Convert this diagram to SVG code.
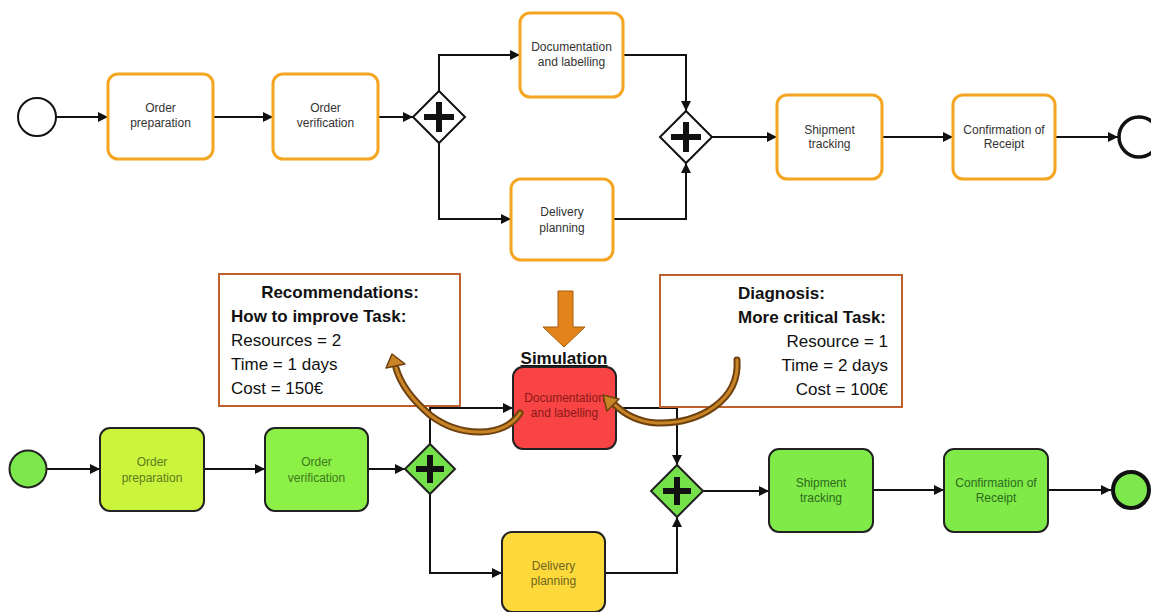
<svg xmlns="http://www.w3.org/2000/svg" width="1151" height="612" viewBox="0 0 1151 612">
<defs>
<style>
.t{font-family:"Liberation Sans",Arial,sans-serif;font-size:12px;text-anchor:middle}
.tg{fill:#333}
.top{fill:#fff;stroke:#F4A623;stroke-width:3}
.bot{stroke:#222;stroke-width:2}
.gw{fill:#fff;stroke:#111;stroke-width:2}
.gwb{fill:#74E04A;stroke:#222;stroke-width:2}
.plus{stroke:#111;stroke-width:6;fill:none}
.con{fill:none;stroke:#111;stroke-width:2}
.m{font-family:"Liberation Sans",Arial,sans-serif;font-size:17px;fill:#111}
.b{font-weight:bold}
.note{fill:#fff;stroke:#C0602F;stroke-width:2}
.curveo{fill:none;stroke:#6E4210;stroke-width:7;stroke-linecap:round}
.curvei{fill:none;stroke:#C98425;stroke-width:3;stroke-linecap:round}
</style>
<marker id="arr" viewBox="0 0 10 10" refX="10" refY="5" markerWidth="11" markerHeight="10" markerUnits="userSpaceOnUse" orient="auto">
<path d="M0,0 L10,5 L0,10 z" fill="#111"/>
</marker>
</defs>
<rect width="1151" height="612" fill="#fff"/>

<g id="connectors">
<path class="con" d="M56,117 H108" marker-end="url(#arr)"/>
<path class="con" d="M213,117 H273" marker-end="url(#arr)"/>
<path class="con" d="M378,117 H413" marker-end="url(#arr)"/>
<path class="con" d="M439,91 V55 H520" marker-end="url(#arr)"/>
<path class="con" d="M439,143 V219 H511" marker-end="url(#arr)"/>
<path class="con" d="M623,55 H686 V111" marker-end="url(#arr)"/>
<path class="con" d="M613,219 H686 V163" marker-end="url(#arr)"/>
<path class="con" d="M712,137 H777" marker-end="url(#arr)"/>
<path class="con" d="M882,137 H953" marker-end="url(#arr)"/>
<path class="con" d="M1055,137 H1118" marker-end="url(#arr)"/>

<path class="con" d="M47,469 H100" marker-end="url(#arr)"/>
<path class="con" d="M204,469 H265" marker-end="url(#arr)"/>
<path class="con" d="M368,469 H405" marker-end="url(#arr)"/>
<path class="con" d="M430,444 V408 H513" marker-end="url(#arr)"/>
<path class="con" d="M430,494 V573 H502" marker-end="url(#arr)"/>
<path class="con" d="M616,408 H677 V465" marker-end="url(#arr)"/>
<path class="con" d="M605,573 H677 V517" marker-end="url(#arr)"/>
<path class="con" d="M703,491 H769" marker-end="url(#arr)"/>
<path class="con" d="M873,490 H944" marker-end="url(#arr)"/>
<path class="con" d="M1048,490 H1111" marker-end="url(#arr)"/>
</g>

<!-- top process -->
<g id="top-start"><circle cx="37" cy="117" r="19" fill="#fff" stroke="#111" stroke-width="2"/></g>
<g id="top-order-prep"><rect class="top" x="108" y="74" width="105" height="85" rx="10"/><text class="t tg" x="160.5" y="112">Order</text><text class="t tg" x="160.5" y="127">preparation</text></g>
<g id="top-order-verif"><rect class="top" x="273" y="74" width="105" height="85" rx="10"/><text class="t tg" x="325.5" y="112">Order</text><text class="t tg" x="325.5" y="127">verification</text></g>
<g id="top-gw1"><path class="gw" d="M439,91 L465,117 L439,143 L413,117 Z"/><path class="plus" d="M424,117 H454 M439,102 V132"/></g>
<g id="top-doc"><rect class="top" x="520" y="13" width="103" height="84" rx="10"/><text class="t tg" x="571.5" y="51">Documentation</text><text class="t tg" x="571.5" y="66">and labelling</text></g>
<g id="top-delivery"><rect class="top" x="511" y="179" width="102" height="81" rx="10"/><text class="t tg" x="562" y="216">Delivery</text><text class="t tg" x="562" y="232">planning</text></g>
<g id="top-gw2"><path class="gw" d="M686,111 L712,137 L686,163 L660,137 Z"/><path class="plus" d="M671,137 H701 M686,122 V152"/></g>
<g id="top-shipment"><rect class="top" x="777" y="95" width="105" height="84" rx="10"/><text class="t tg" x="829.5" y="134">Shipment</text><text class="t tg" x="829.5" y="148">tracking</text></g>
<g id="top-confirm"><rect class="top" x="953" y="95" width="102" height="84" rx="10"/><text class="t tg" x="1004" y="134">Confirmation of</text><text class="t tg" x="1004" y="148">Receipt</text></g>
<g id="top-end"><circle cx="1139" cy="137" r="20" fill="#fff" stroke="#111" stroke-width="3.5"/></g>

<!-- middle notes -->
<g id="recommendations"><rect class="note" x="219" y="274" width="241" height="132"/>
<text class="m b" x="340" y="298" text-anchor="middle">Recommendations:</text>
<text class="m b" x="231" y="322">How to improve Task:</text>
<text class="m" x="231" y="346">Resources = 2</text>
<text class="m" x="231" y="370">Time = 1 days</text>
<text class="m" x="231" y="394">Cost = 150€</text></g>
<g id="diagnosis"><rect class="note" x="660" y="275" width="242" height="132"/>
<text class="m b" x="738" y="299">Diagnosis:</text>
<text class="m b" x="738" y="323">More critical Task:</text>
<text class="m" x="888" y="347" text-anchor="end">Resource = 1</text>
<text class="m" x="888" y="371" text-anchor="end">Time = 2 days</text>
<text class="m" x="888" y="395" text-anchor="end">Cost = 100€</text></g>
<g id="sim-arrow"><path d="M558,291 H573 V327 H585 L564,347 L543,327 H558 Z" fill="#E3841A" stroke="#A85A10" stroke-width="1"/></g>
<g id="simulation"><text class="m b" x="564" y="364" text-anchor="middle" text-decoration="underline">Simulation</text></g>

<!-- bottom process -->
<g id="bot-start"><circle class="bot" cx="28" cy="469" r="18.5" fill="#7CE84C"/></g>
<g id="bot-order-prep"><rect class="bot" x="100" y="428" width="104" height="83" rx="10" fill="#CBF53C"/><text class="t" fill="#5C7A1E" x="152" y="466">Order</text><text class="t" fill="#5C7A1E" x="152" y="482">preparation</text></g>
<g id="bot-order-verif"><rect class="bot" x="265" y="428" width="103" height="83" rx="10" fill="#8CF046"/><text class="t" fill="#3C7A1E" x="316.5" y="466">Order</text><text class="t" fill="#3C7A1E" x="316.5" y="482">verification</text></g>
<g id="bot-gw1"><path class="gwb" d="M430,444 L455,469 L430,494 L405,469 Z"/><path class="plus" d="M416,469 H444 M430,455 V483"/></g>
<g id="bot-doc"><rect class="bot" x="513" y="367" width="103" height="82" rx="10" fill="#F84444"/><text class="t" fill="#8A1818" x="564.5" y="402">Documentation</text><text class="t" fill="#8A1818" x="564.5" y="417">and labelling</text></g>
<g id="bot-delivery"><rect class="bot" x="502" y="532" width="103" height="80" rx="10" fill="#FDD93C"/><text class="t" fill="#6E641E" x="553.5" y="570">Delivery</text><text class="t" fill="#6E641E" x="553.5" y="585">planning</text></g>
<g id="bot-gw2"><path class="gwb" d="M677,465 L703,491 L677,517 L651,491 Z"/><path class="plus" d="M663,491 H691 M677,477 V505"/></g>
<g id="bot-shipment"><rect class="bot" x="769" y="449" width="104" height="83" rx="10" fill="#7FEA48"/><text class="t" fill="#2E6A1E" x="821" y="487">Shipment</text><text class="t" fill="#2E6A1E" x="821" y="502">tracking</text></g>
<g id="bot-confirm"><rect class="bot" x="944" y="449" width="104" height="83" rx="10" fill="#7FEA48"/><text class="t" fill="#2E6A1E" x="996" y="487">Confirmation of</text><text class="t" fill="#2E6A1E" x="996" y="502">Receipt</text></g>
<g id="bot-end"><circle cx="1131" cy="490" r="18" fill="#7CE84C" stroke="#111" stroke-width="4"/></g>

<!-- curved callout arrows -->
<g id="curved-arrows">
<path class="curveo" d="M520,413 C505,438 460,438 430,415 C410,398 400,382 396,368"/>
<path class="curvei" d="M520,413 C505,438 460,438 430,415 C410,398 400,382 396,368"/>
<path d="M386,368 L392,354 L405,364 Z" fill="#C98425" stroke="#6E4210" stroke-width="1.5" stroke-linejoin="round"/>
<path class="curveo" d="M737,360 C740,400 700,424 657,423 C638,422 624,414 614,404"/>
<path class="curvei" d="M737,360 C740,400 700,424 657,423 C638,422 624,414 614,404"/>
<path d="M607,411 L603,395 L619,399 Z" fill="#C98425" stroke="#6E4210" stroke-width="1.5" stroke-linejoin="round"/>
</g>
</svg>
